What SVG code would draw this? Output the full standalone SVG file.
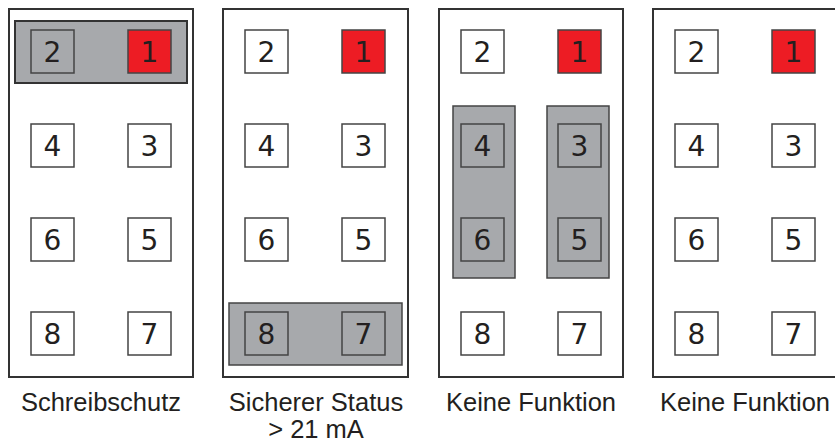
<svg xmlns="http://www.w3.org/2000/svg" width="835" height="445" viewBox="0 0 835 445">
<style>
.panel{fill:#fff;stroke:#333;stroke-width:2}
.bar{fill:#a7a9ac;stroke:#333;stroke-width:2}
.vbar{fill:#a7a9ac;stroke:#444;stroke-width:1.5}
.sq{fill:#fff;stroke:#444;stroke-width:1.5}
.sq.g{fill:#a7a9ac}
.sq.r{fill:#ed1c24}
.num{font-family:"DejaVu Sans","Liberation Sans",sans-serif;font-size:28px;fill:#231f20;text-anchor:middle}
.lbl{font-family:"Liberation Sans",Arial,sans-serif;font-size:25.5px;fill:#231f20;text-anchor:middle}
</style>
<g id="panel1">
<rect class="panel" x="9" y="9" width="184" height="368"/>
<rect class="bar" x="15" y="21" width="172" height="62"/>
<rect class="sq g" x="31" y="30" width="43" height="43"/><text class="num" x="52.5" y="62">2</text>
<rect class="sq r" x="128" y="30" width="43" height="43"/><text class="num" x="149.5" y="62">1</text>
<rect class="sq" x="31" y="124" width="43" height="43"/><text class="num" x="52.5" y="156">4</text>
<rect class="sq" x="128" y="124" width="43" height="43"/><text class="num" x="149.5" y="156">3</text>
<rect class="sq" x="31" y="218" width="43" height="43"/><text class="num" x="52.5" y="250">6</text>
<rect class="sq" x="128" y="218" width="43" height="43"/><text class="num" x="149.5" y="250">5</text>
<rect class="sq" x="31" y="312" width="43" height="43"/><text class="num" x="52.5" y="344">8</text>
<rect class="sq" x="128" y="312" width="43" height="43"/><text class="num" x="149.5" y="344">7</text>
<text class="lbl" x="101" y="411">Schreibschutz</text>
</g>
<g id="panel2">
<rect class="panel" x="223" y="9" width="185" height="368"/>
<rect class="sq" x="245" y="30" width="43" height="43"/><text class="num" x="266.5" y="62">2</text>
<rect class="sq r" x="342" y="30" width="43" height="43"/><text class="num" x="363.5" y="62">1</text>
<rect class="sq" x="245" y="124" width="43" height="43"/><text class="num" x="266.5" y="156">4</text>
<rect class="sq" x="342" y="124" width="43" height="43"/><text class="num" x="363.5" y="156">3</text>
<rect class="sq" x="245" y="218" width="43" height="43"/><text class="num" x="266.5" y="250">6</text>
<rect class="sq" x="342" y="218" width="43" height="43"/><text class="num" x="363.5" y="250">5</text>
<rect class="vbar" x="229" y="303" width="173" height="62"/>
<rect class="sq g" x="245" y="312" width="43" height="43"/><text class="num" x="266.5" y="344">8</text>
<rect class="sq g" x="342" y="312" width="43" height="43"/><text class="num" x="363.5" y="344">7</text>
<text class="lbl" x="316" y="411">Sicherer Status</text>
<text class="lbl" x="316" y="438">&gt; 21 mA</text>
</g>
<g id="panel3">
<rect class="panel" x="439" y="9" width="184" height="368"/>
<rect class="sq" x="461" y="30" width="43" height="43"/><text class="num" x="482.5" y="62">2</text>
<rect class="sq r" x="558" y="30" width="43" height="43"/><text class="num" x="579.5" y="62">1</text>
<rect class="vbar" x="453" y="106" width="62" height="172"/>
<rect class="vbar" x="547" y="106" width="62" height="172"/>
<rect class="sq g" x="461" y="124" width="43" height="43"/><text class="num" x="482.5" y="156">4</text>
<rect class="sq g" x="558" y="124" width="43" height="43"/><text class="num" x="579.5" y="156">3</text>
<rect class="sq g" x="461" y="218" width="43" height="43"/><text class="num" x="482.5" y="250">6</text>
<rect class="sq g" x="558" y="218" width="43" height="43"/><text class="num" x="579.5" y="250">5</text>
<rect class="sq" x="461" y="312" width="43" height="43"/><text class="num" x="482.5" y="344">8</text>
<rect class="sq" x="558" y="312" width="43" height="43"/><text class="num" x="579.5" y="344">7</text>
<text class="lbl" x="531" y="411">Keine Funktion</text>
</g>
<g id="panel4">
<rect class="panel" x="653" y="9" width="190" height="368"/>
<rect class="sq" x="675" y="30" width="43" height="43"/><text class="num" x="696.5" y="62">2</text>
<rect class="sq r" x="772" y="30" width="43" height="43"/><text class="num" x="793.5" y="62">1</text>
<rect class="sq" x="675" y="124" width="43" height="43"/><text class="num" x="696.5" y="156">4</text>
<rect class="sq" x="772" y="124" width="43" height="43"/><text class="num" x="793.5" y="156">3</text>
<rect class="sq" x="675" y="218" width="43" height="43"/><text class="num" x="696.5" y="250">6</text>
<rect class="sq" x="772" y="218" width="43" height="43"/><text class="num" x="793.5" y="250">5</text>
<rect class="sq" x="675" y="312" width="43" height="43"/><text class="num" x="696.5" y="344">8</text>
<rect class="sq" x="772" y="312" width="43" height="43"/><text class="num" x="793.5" y="344">7</text>
<text class="lbl" x="745" y="411">Keine Funktion</text>
</g>
<g id="connectors"/>
</svg>
